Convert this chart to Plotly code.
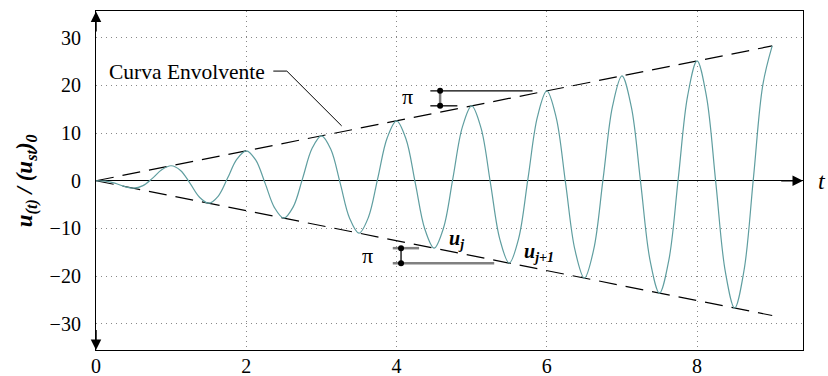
import plotly.graph_objects as go

# ---- data ----
t = [0.0, 0.125, 0.25, 0.375, 0.5, 0.625, 0.75, 0.875,
     1.0, 1.125, 1.25, 1.375, 1.5, 1.625, 1.75, 1.875,
     2.0, 2.125, 2.25, 2.375, 2.5, 2.625, 2.75, 2.875,
     3.0, 3.125, 3.25, 3.375, 3.5, 3.625, 3.75, 3.875,
     4.0, 4.125, 4.25, 4.375, 4.5, 4.625, 4.75, 4.875,
     5.0, 5.125, 5.25, 5.375, 5.5, 5.625, 5.75, 5.875,
     6.0, 6.125, 6.25, 6.375, 6.5, 6.625, 6.75, 6.875,
     7.0, 7.125, 7.25, 7.375, 7.5, 7.625, 7.75, 7.875,
     8.0, 8.125, 8.25, 8.375, 8.5, 8.625, 8.75, 8.875,
     9.0]
u = [0, -0.08, -0.5, -1.19, -1.57, -1.03, 0.5, 2.30,
     3.14, 2.15, -0.5, -3.41, -4.71, -3.26, 0.5, 4.52,
     6.28, 4.37, -0.5, -5.63, -7.85, -5.48, 0.5, 6.74,
     9.42, 6.59, -0.5, -7.85, -11.00, -7.70, 0.5, 8.96,
     12.57, 8.81, -0.5, -10.07, -14.14, -9.92, 0.5, 11.18,
     15.71, 11.03, -0.5, -12.29, -17.28, -12.14, 0.5, 13.40,
     18.85, 13.25, -0.5, -14.52, -20.42, -14.36, 0.5, 15.63,
     21.99, 15.47, -0.5, -16.74, -23.56, -16.59, 0.5, 17.85,
     25.13, 17.70, -0.5, -18.96, -26.70, -18.81, 0.5, 20.07,
     28.27]

env_t = [0, 9]
env_upper = [0, 28.27]
env_lower = [0, -28.27]

x_ticks = [0, 2, 4, 6, 8]
y_ticks = [-30, -20, -10, 0, 10, 20, 30]

# annotation geometry (data units)
leader_x = [2.36, 2.54, 3.27]
leader_y = [23.0, 23.0, 11.5]

pi_up_vx = [4.58, 4.58]
pi_up_vy = [18.85, 15.71]
pi_up_top_x = [4.45, 5.81]
pi_up_top_y = [18.85, 18.85]
pi_up_bot_x = [4.45, 4.81]
pi_up_bot_y = [15.71, 15.71]

pi_lo_vx = [4.06, 4.06]
pi_lo_vy = [-14.14, -17.28]
pi_lo_top_x = [3.95, 4.30]
pi_lo_top_y = [-14.14, -14.14]
pi_lo_bot_x = [3.95, 5.30]
pi_lo_bot_y = [-17.28, -17.28]

FONT = "'Liberation Serif', 'Times New Roman', 'DejaVu Serif', serif"

fig = go.Figure()

def line(x, y, color="black", width=1.2, dash="solid"):
    fig.add_trace(go.Scatter(x=x, y=y, mode="lines", hoverinfo="skip",
                             line=dict(color=color, width=width, dash=dash),
                             showlegend=False, cliponaxis=False))

# envelopes
line(env_t, env_upper, dash="18px,9px")
line(env_t, env_lower, dash="18px,9px")

# response curve
fig.add_trace(go.Scatter(x=t, y=u, mode="lines", showlegend=False,
                         line=dict(color="#5f9ea0", width=1.2, shape="spline", smoothing=1.0)))

# leader line
line(leader_x, leader_y, width=1.0)

# upper pi dimension
line(pi_up_top_x, pi_up_top_y, width=1.3)
line(pi_up_bot_x, pi_up_bot_y, width=1.3)
line(pi_up_vx, pi_up_vy, color="#808080", width=2.5)
fig.add_trace(go.Scatter(x=pi_up_vx, y=pi_up_vy, mode="markers", showlegend=False,
                         marker=dict(color="black", size=6)))

# lower pi dimension
line(pi_lo_top_x, pi_lo_top_y, color="#808080", width=2.5)
line(pi_lo_bot_x, pi_lo_bot_y, color="#808080", width=2.5)
line(pi_lo_vx, pi_lo_vy, width=1.3)
fig.add_trace(go.Scatter(x=pi_lo_vx, y=pi_lo_vy, mode="markers", showlegend=False,
                         marker=dict(color="black", size=6)))

anns = [
    dict(x=1.21, y=22.8, text="Curva Envolvente", font=dict(size=21.5)),
    dict(x=4.14, y=17.6, text="π", font=dict(size=22)),
    dict(x=3.62, y=-15.6, text="π", font=dict(size=22)),
    dict(x=4.80, y=-12.4, text="<b><i>u<sub>j</sub></i></b>", font=dict(size=20)),
    dict(x=5.90, y=-15.0, text="<b><i>u<sub>j+1</sub></i></b>", font=dict(size=20)),
]
for a in anns:
    fig.add_annotation(xref="x", yref="y", showarrow=False,
                       xanchor="center", yanchor="middle", **a)

# axis arrows
arrow = dict(showarrow=True, arrowhead=2, arrowsize=1.4, arrowwidth=1.5,
             arrowcolor="black", text="", xref="x", yref="y", axref="x", ayref="y")
fig.add_annotation(x=0, y=35.5, ax=0, ay=31, **arrow)
fig.add_annotation(x=0, y=-35.5, ax=0, ay=-31, **arrow)
fig.add_annotation(x=9.41, y=0, ax=9.1, ay=0, **arrow)

fig.add_annotation(xref="paper", yref="paper", x=1.027, y=0.5, showarrow=False,
                   text="<i>t</i>", font=dict(size=24), xanchor="center", yanchor="middle")
fig.add_annotation(xref="paper", yref="paper", x=-0.098, y=0.5, showarrow=False,
                   textangle=-90,
                   text="<b><i>u<sub>(t)</sub> / (u<sub>st</sub>)<sub>0</sub></i></b>",
                   font=dict(size=23), xanchor="center", yanchor="middle")

fig.update_layout(
    width=828, height=376, autosize=False,
    margin=dict(l=96, r=25, t=11, b=26),
    paper_bgcolor="white", plot_bgcolor="white",
    font=dict(family=FONT, color="black", size=18),
    xaxis=dict(range=[0, 9.41], tickvals=x_ticks, showgrid=True, automargin=False,
               gridcolor="#888888", griddash="1px,4px", gridwidth=1,
               showline=True, linecolor="black", linewidth=1.2, mirror=True,
               zeroline=False, ticks="", ticklen=0, ticklabelstandoff=-2,
               tickfont=dict(size=20, family=FONT)),
    yaxis=dict(range=[-35.5, 35.6], tickvals=y_ticks, showgrid=True, automargin=False,
               gridcolor="#888888", griddash="1px,4px", gridwidth=1,
               showline=True, linecolor="black", linewidth=1.2, mirror=True,
               zeroline=True, zerolinecolor="black", zerolinewidth=1.3,
               ticks="", ticklabelstandoff=10,
               tickfont=dict(size=20, family=FONT)),
)

fig.write_html("out.html",
               config={"displayModeBar": False, "responsive": False},
               post_script="document.body.style.margin='0';")
